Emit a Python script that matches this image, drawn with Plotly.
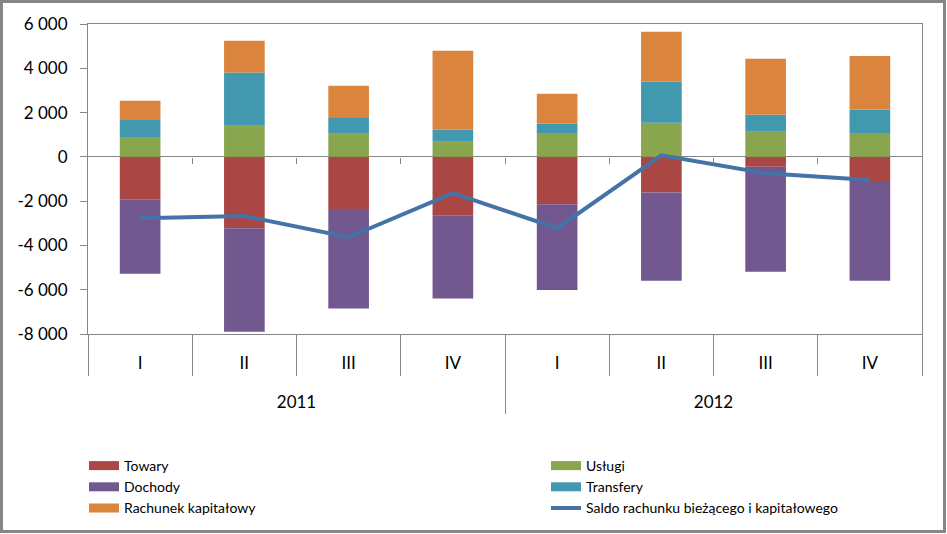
import plotly.graph_objects as go

# ---------------- data ----------------
quarters = ["I", "II", "III", "IV", "I", "II", "III", "IV"]
years = ["2011", "2012"]
quarters_per_year = 4

towary = [-1940, -3220, -2350, -2660, -2140, -1610, -450, -1130]
uslugi = [900, 1400, 1040, 680, 1080, 1540, 1130, 1080]
dochody = [-3340, -4680, -4500, -3740, -3870, -3990, -4740, -4470]
transfery = [770, 2410, 720, 540, 410, 1860, 770, 1060]
rachunek = [860, 1430, 1450, 3570, 1360, 2250, 2530, 2420]
saldo = [-2770, -2670, -3630, -1640, -3220, 70, -740, -1040]

y_tick_vals = [-8000, -6000, -4000, -2000, 0, 2000, 4000, 6000]
y_tick_text = ["-8 000", "-6 000", "-4 000", "-2 000", "0", "2 000", "4 000", "6 000"]

# ---------------- derived positions ----------------
x = list(range(len(quarters)))
x_range = [-0.5, len(quarters) - 0.5]
q_bounds = [i - 0.5 for i in range(len(quarters) + 1)]
y_bounds = [i * quarters_per_year - 0.5 for i in range(len(years) + 1)]
y_centers = [i * quarters_per_year + (quarters_per_year - 1) / 2 for i in range(len(years))]
inner_bounds = q_bounds[1:-1]

FONT = "Lato"
AX = "#868686"

W, H = 947, 534
ML, MR, MT, MB = 88, 25, 24, 120
PLOT_BOTTOM = 334
paper_h = H - MT - MB
paper_w = W - ML - MR
dom0 = (H - MB - PLOT_BOTTOM) / paper_h
yr = [y_tick_vals[0], y_tick_vals[-1]]
zero_pos = dom0 + (0 - yr[0]) / (yr[1] - yr[0]) * (1 - dom0)

colors = {
    "Towary": "#AA4643",
    "Usługi": "#89A54E",
    "Dochody": "#71588F",
    "Transfery": "#4198AF",
    "Rachunek kapitałowy": "#DB843D",
    "Saldo": "#4572A7",
}

fig = go.Figure()

series = [
    ("Towary", towary),
    ("Usługi", uslugi),
    ("Dochody", dochody),
    ("Transfery", transfery),
    ("Rachunek kapitałowy", rachunek),
]
for name, vals in series:
    fig.add_trace(go.Bar(
        x=x, y=vals, name=name, marker=dict(color=colors[name], line=dict(width=0)),
        width=0.39, showlegend=False, legendgroup=name,
    ))

fig.add_trace(go.Scatter(
    x=x, y=saldo, mode="lines", name="Saldo rachunku bieżącego i kapitałowego",
    line=dict(color=colors["Saldo"], width=4), showlegend=False, legendgroup="saldo",
))

# legend entries (legend-only swatches)
legend_order = [
    ("Towary", "legend"), ("Dochody", "legend"), ("Rachunek kapitałowy", "legend"),
    ("Usługi", "legend2"), ("Transfery", "legend2"),
]
for name, lg in legend_order:
    fig.add_trace(go.Scatter(
        x=[None], y=[None], mode="lines", name=name, legend=lg, legendgroup=name,
        line=dict(color=colors[name], width=9),
    ))
fig.add_trace(go.Scatter(
    x=[None], y=[None], mode="lines", name="Saldo rachunku bieżącego i kapitałowego",
    legend="legend2", legendgroup="saldo", line=dict(color=colors["Saldo"], width=4),
))

# empty traces to create helper axes
for ax in ["x2", "x3", "x4"]:
    fig.add_trace(go.Scatter(x=[], y=[], xaxis=ax, showlegend=False, hoverinfo="skip"))

fig.update_layout(
    width=W, height=H,
    margin=dict(l=ML, r=MR, t=MT, b=MB, autoexpand=False),
    paper_bgcolor="white", plot_bgcolor="white",
    barmode="relative",
    font=dict(family=FONT, color="black"),
    xaxis=dict(
        range=x_range, showgrid=False, zeroline=False, automargin=False,
        showline=True, linecolor=AX, linewidth=1, mirror=True,
        tickmode="array", tickvals=x, ticktext=quarters, ticks="",
        tickfont=dict(size=17), ticklabelstandoff=14,
        minor=dict(tickmode="array", tickvals=q_bounds, ticks="outside",
                   ticklen=41, tickcolor=AX, tickwidth=1, showgrid=False),
    ),
    xaxis2=dict(
        overlaying="x", anchor="free", position=0, range=x_range, automargin=False,
        showgrid=False, zeroline=False, showline=False,
        tickmode="array", tickvals=y_bounds, ticks="inside", ticklen=80,
        tickcolor=AX, tickwidth=1, showticklabels=False,
    ),
    xaxis3=dict(
        overlaying="x", anchor="free", position=zero_pos, range=x_range, automargin=False,
        showgrid=False, zeroline=False, showline=False,
        tickmode="array", tickvals=inner_bounds, ticks="outside", ticklen=6,
        tickcolor=AX, tickwidth=1, showticklabels=False,
    ),
    xaxis4=dict(
        overlaying="x", anchor="free", position=(H - MB - 390) / paper_h, range=x_range,
        automargin=False, showgrid=False, zeroline=False, showline=False,
        tickmode="array", tickvals=y_centers, ticktext=years, ticks="",
        tickfont=dict(size=17),
    ),
    yaxis=dict(
        domain=[dom0, 1], range=yr, showgrid=False, automargin=False,
        zeroline=True, zerolinecolor=AX, zerolinewidth=1,
        showline=True, linecolor=AX, linewidth=1, mirror=True,
        tickmode="array", tickvals=y_tick_vals, ticktext=y_tick_text,
        ticks="outside", ticklen=7, tickcolor=AX, tickfont=dict(size=17),
        ticklabelstandoff=9,
    ),
    legend=dict(
        orientation="v", x=(84 - ML) / paper_w, xanchor="left",
        y=(H - MB - 450) / paper_h, yanchor="top",
        font=dict(family=FONT, size=14, color="black"), bgcolor="rgba(0,0,0,0)",
        tracegroupgap=0,
    ),
    legend2=dict(
        orientation="v", x=(546 - ML) / paper_w, xanchor="left",
        y=(H - MB - 450) / paper_h, yanchor="top",
        font=dict(family=FONT, size=14, color="black"), bgcolor="rgba(0,0,0,0)",
        tracegroupgap=0,
    ),
    shapes=[dict(
        type="rect", xref="paper", yref="paper",
        x0=(1.5 - ML) / paper_w, x1=(W - 2.5 - ML) / paper_w,
        y0=(H - MB - (H - 2.5)) / paper_h, y1=(H - MB - 1.5) / paper_h,
        line=dict(color="#868686", width=3), fillcolor="rgba(0,0,0,0)", layer="above",
    )],
)

fig.write_html("out.html", config={"displayModeBar": False},
               post_script="document.body.style.margin='0px';")
